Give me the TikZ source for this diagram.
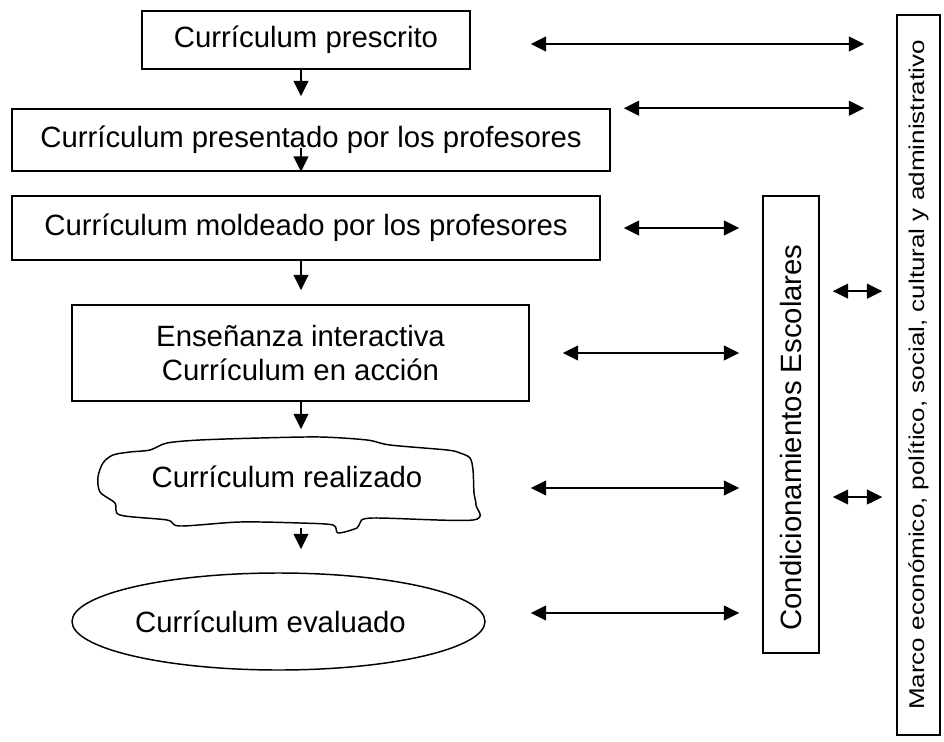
\documentclass[tikz,border=0pt]{standalone}
\usepackage{fontspec}
\setmainfont{Liberation Sans}
\newfontfamily\narrowfont[FakeStretch=1.22]{Liberation Sans}
\usetikzlibrary{arrows.meta,shapes.geometric,positioning}

\begin{document}
\begin{tikzpicture}[x=0.75pt, y=-0.75pt,
    box/.style={draw, line width=1.1pt, inner sep=0pt, align=center,
                font=\fontsize{22}{25.5}\selectfont},
    arr/.style={-{Triangle[length=11.5pt,width=11pt]}, line width=1.5pt},
    darr/.style={{Triangle[length=11.5pt,width=11pt]}-{Triangle[length=11.5pt,width=11pt]},
                 line width=1.5pt}
]
\useasboundingbox (0,0) rectangle (944,741);
\coordinate (spine) at (301,0);

\node[box, minimum width=246pt, minimum height=43.5pt] (prescrito) at (306,40)
    {Currículum prescrito};
\node[box, minimum width=448.5pt, minimum height=46.5pt] (presentado) at (311,140)
    {Currículum presentado por los profesores};
\node[box, minimum width=441pt, minimum height=48pt] (moldeado) at (306,228)
    {Currículum moldeado por los profesores};
\node[box, minimum width=342.75pt, minimum height=72pt] (ensenanza) at (300.5,353)
    {Enseñanza interactiva\\Currículum en acción};
\node[box, draw=none, minimum width=283.5pt, minimum height=60pt] (realizado) at (287,477)
    {Currículum realizado};
\node[box, ellipse, minimum width=309.75pt, minimum height=72.75pt] (evaluado) at (278.5,621.5)
    {Currículum evaluado\hspace{12pt}};
\node[box, rotate=90, minimum width=342.75pt, minimum height=42pt] (cond) at (791,424.5)
    {Condicionamientos Escolares\hspace{19.5pt}};
\node[box, rotate=90, minimum width=540pt, minimum height=32.25pt,
      font=\narrowfont\fontsize{16}{19}\selectfont] (marco) at (918.5,375)
    {Marco económico, político, social, cultural y administrativo};

\draw[line width=1.1pt] plot[smooth cycle, tension=0.5] coordinates {
    (103,463) (113,455) (130,452) (150,450) (167,443) (200,440) (260,438)
    (320,437) (367,440) (390,445) (447,450) (460,453) (470,458) (473,470)
    (474,493) (476,505) (473,520) (373,518) (360,523) (357,528) (338,533)
    (333,525) (300,523) (240,522) (180,526) (167,520) (120,515) (115,503)
    (100,492) (98,477)};

\draw[arr, shorten >=9pt] (prescrito.south -| spine) -- (presentado.north -| spine);
\draw[arr] ([yshift=18pt]presentado.south -| spine) -- (presentado.south -| spine);
\draw[arr, shorten >=10.5pt] (moldeado.south -| spine) -- (ensenanza.north -| spine);
\draw[arr, shorten >=5.25pt] (ensenanza.south -| spine) -- (realizado.north -| spine);
\draw[arr, shorten <=7.5pt, shorten >=17.25pt] (realizado.south -| spine) -- (evaluado.north -| spine);

\draw[darr, shorten <=45pt, shorten >=24pt]
    ([yshift=-3pt]prescrito.east) -- ([yshift=-3pt]prescrito.east -| marco.north);
\draw[darr, shorten <=9.75pt, shorten >=24pt]
    (presentado.north east) -- (presentado.north east -| marco.north);
\draw[darr, shorten <=17.25pt, shorten >=17.25pt]
    (moldeado.east) -- (moldeado.east -| cond.north);
\draw[darr, shorten <=24.75pt, shorten >=17.25pt]
    (ensenanza.east) -- (ensenanza.east -| cond.north);
\draw[darr, shorten <=40.5pt, shorten >=17.25pt]
    ([yshift=-8.25pt]realizado.east) -- ([yshift=-8.25pt]realizado.east -| cond.north);
\draw[darr, shorten <=33.75pt, shorten >=17.25pt]
    ([yshift=6.4pt]evaluado.east) -- ([yshift=6.4pt]evaluado.east -| cond.north);
\draw[darr, shorten <=9.75pt, shorten >=10.5pt]
    ([yshift=100pt]cond.south) -- ([yshift=100pt]cond.south -| marco.north);
\draw[darr, shorten <=9.75pt, shorten >=10.5pt]
    ([yshift=-54.4pt]cond.south) -- ([yshift=-54.4pt]cond.south -| marco.north);
\end{tikzpicture}
\end{document}
